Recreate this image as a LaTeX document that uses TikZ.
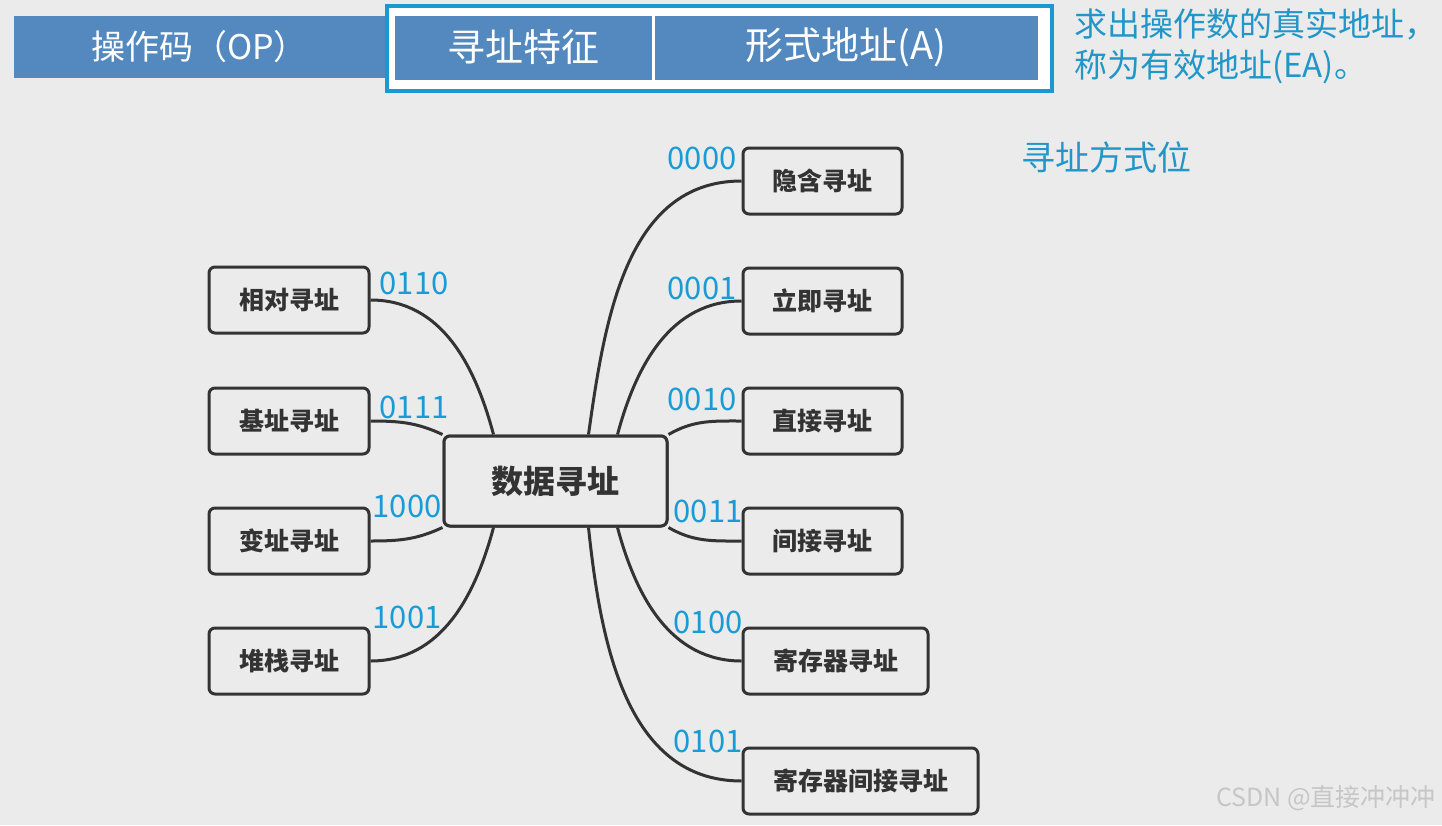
\documentclass[tikz,border=0pt]{standalone}
\usepackage{fontspec}
\setmainfont{Noto Sans CJK SC}
\usetikzlibrary{positioning}
\definecolor{bgc}{HTML}{EBEBEB}
\definecolor{barblue}{HTML}{5489C0}
\definecolor{framecyan}{HTML}{1A99D0}
\definecolor{textcyan}{HTML}{2296C8}
\definecolor{labblue}{HTML}{1A9BD6}
\definecolor{ink}{HTML}{333333}
\definecolor{wm}{HTML}{C6C6C6}
\tikzset{
  bar/.style={fill=barblue, draw=none, inner sep=0pt, text=white, font=\fontsize{34}{40}\selectfont},
  box/.style={draw=ink, line width=3pt, rounded corners=6pt, fill=bgc, inner sep=0pt,
              minimum height=66pt, text=ink, font=\fontsize{25}{30}\selectfont\bfseries},
  hub/.style={box, minimum width=223pt, minimum height=90pt, font=\fontsize{32}{38}\selectfont\bfseries},
  edge/.style={draw=ink, line width=3pt},
  code/.style={text=labblue, inner sep=0pt, font=\fontsize{31}{34}\selectfont},
  note/.style={text=textcyan, inner sep=0pt, anchor=west, font=\fontsize{33}{38}\selectfont},
}
\begin{document}
\begin{tikzpicture}[x=1pt,y=-1pt]
\fill[bgc] (0,0) rectangle (1442,825);
\useasboundingbox (0,0) rectangle (1442,825);

% top bar
\node[bar, minimum width=371pt, minimum height=62pt] (op) at (199.5,47) {操作码（OP）};
\node[draw=framecyan, line width=4pt, fill=white, minimum width=665pt, minimum height=85pt, inner sep=0pt] (frame) at (719.5,48.5) {};
\node[bar, minimum width=257pt, minimum height=64pt, font=\fontsize{38}{42}\selectfont] (feat) at (523.5,47.5) {寻址特征};
\node[bar, minimum width=383pt, minimum height=64pt, font=\fontsize{38}{42}\selectfont] (addr) at (846,47.5) {形式地址(A)};

\node[note] (n1) at (1074,24) {求出操作数的真实地址，};
\node[note] (n2) at (1074,67) {称为有效地址(EA)。};
\node[note, font=\fontsize{34}{39}\selectfont] (n3) at (1021,157) {寻址方式位};

% hub
\node[hub] (c) at (555.5,481) {数据寻址};

% right nodes
\node[box, minimum width=159pt] (r0) at (822.5,181) {隐含寻址};
\node[box, minimum width=159pt] (r1) at (822.5,301) {立即寻址};
\node[box, minimum width=159pt] (r2) at (822.5,421) {直接寻址};
\node[box, minimum width=159pt] (r3) at (822.5,541) {间接寻址};
\node[box, minimum width=185pt] (r4) at (835.5,661) {寄存器寻址};
\node[box, minimum width=235pt] (r5) at (860.5,781) {寄存器间接寻址};

% left nodes
\node[box, minimum width=160pt] (l0) at (289,300) {相对寻址};
\node[box, minimum width=160pt] (l1) at (289,421) {基址寻址};
\node[box, minimum width=160pt] (l2) at (289,541) {变址寻址};
\node[box, minimum width=160pt] (l3) at (289,661) {堆栈寻址};

% connectors right
\draw[edge] ([xshift=33pt]c.north) to[out=82,in=180] (r0.west);
\draw[edge] ([xshift=62pt]c.north) to[out=75,in=180] (r1.west);
\draw[edge] (c.north east) to[out=30,in=180] (r2.west);
\draw[edge] (c.south east) to[out=-30,in=180] (r3.west);
\draw[edge] ([xshift=62pt]c.south) to[out=-75,in=180] (r4.west);
\draw[edge] ([xshift=33pt]c.south) to[out=-84,in=180] (r5.west);

% connectors left
\draw[edge] ([xshift=-62pt]c.north) to[out=105,in=0] (l0.east);
\draw[edge] (c.north west) to[out=155,in=0] (l1.east);
\draw[edge] (c.south west) to[out=-155,in=0] (l2.east);
\draw[edge] ([xshift=-62pt]c.south) to[out=-105,in=0] (l3.east);

% redraw hub on top
\node[hub] (c2) at (c) {数据寻址};

% codes
\node[code] (k0) at (702,158) {0000};
\node[code] (k1) at (702,288) {0001};
\node[code] (k2) at (702,399) {0010};
\node[code] (k3) at (708,511) {0011};
\node[code] (k4) at (708,622) {0100};
\node[code] (k5) at (708,741) {0101};
\node[code] (k6) at (414,283) {0110};
\node[code] (k7) at (414,407) {0111};
\node[code] (k8) at (407,506) {1000};
\node[code] (k9) at (407,617) {1001};

% watermark
\node[text=wm, inner sep=0pt, anchor=east, font=\fontsize{25}{28}\selectfont] (wmk) at (1436,798) {CSDN @直接冲冲冲};
\end{tikzpicture}
\end{document}
